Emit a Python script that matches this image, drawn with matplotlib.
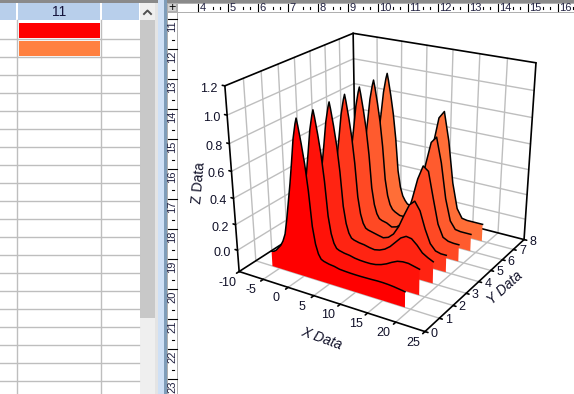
import numpy as np
import matplotlib
matplotlib.use("Agg")
import matplotlib.pyplot as plt
from matplotlib.patches import Rectangle
from mpl_toolkits.mplot3d import proj3d
from mpl_toolkits.mplot3d.art3d import Poly3DCollection

plt.rcParams["font.family"] = ["Liberation Sans", "DejaVu Sans"]

W, H = 574, 394

x_values = [-6.5, -6, -5.5, -5, -4.5, -4, -3.5, -3, -2.5, -2, -1.5, -1, -0.5, -0.25, 0, 0.5, 1, 1.5, 2, 2.5, 3, 3.5,
            4, 5, 6, 7, 8, 9, 10, 11, 12, 13, 14, 15, 16, 17, 18, 19]
y_positions = [1, 2, 3, 4, 5, 6, 7]
rising = [-0.05, -0.045, -0.03, -0.005, 0.02, 0.06, 0.12, 0.24, 0.38, 0.52, 0.68, 0.85, 0.96, 1.0, 0.95,
          0.83, 0.69, 0.50, 0.24, 0.11, 0.04, 0.005]
z1 = rising + [-0.005, -0.015, -0.02, -0.03, -0.033, -0.035, -0.036, -0.036, -0.035, -0.034, -0.032, -0.032, -0.034, -0.038, -0.044, -0.05]
z2 = rising + [-0.005, -0.015, -0.02, -0.03, -0.035, -0.037, -0.037, -0.032, -0.02, -0.002, 0.022, 0.042, 0.05, 0.05, 0.04, 0.03]
z3 = rising + [-0.005, -0.015, -0.02, -0.03, -0.036, -0.027, -0.008, 0.024, 0.069, 0.114, 0.138, 0.131, 0.094, 0.045, 0.02, 0.0]
z4 = rising + [-0.005, -0.015, -0.025, -0.034, -0.019, 0.019, 0.09, 0.189, 0.281, 0.32, 0.256, 0.125, 0.022, -0.024, -0.035, -0.035]
z5 = rising + [-0.005, -0.015, -0.037, -0.025, 0.01, 0.092, 0.233, 0.399, 0.509, 0.477, 0.277, 0.085, -0.009, -0.03, -0.035, -0.035]
z6 = rising + [-0.01, -0.03, -0.03, 0.0, 0.076, 0.226, 0.433, 0.615, 0.664, 0.475, 0.202, 0.033, -0.026, -0.033, -0.033, -0.033]
z7 = rising + [-0.02, -0.025, 0.007, 0.098, 0.275, 0.52, 0.735, 0.792, 0.57, 0.246, 0.047, -0.023, -0.03, -0.03, -0.03, -0.03]
ribbons = [z1, z2, z3, z4, z5, z6, z7]
ribbon_colors = ["#FF0000", "#FF1209", "#FF2412", "#FF371B", "#FF4924", "#FF5B2E", "#FF6E37"]

x_ticks = [-10, -5, 0, 5, 10, 15, 20, 25]
y_ticks = [0, 1, 2, 3, 4, 5, 6, 7, 8]
z_ticks = [0.0, 0.2, 0.4, 0.6, 0.8, 1.0, 1.2]
XMIN, XMAX, YMIN, YMAX, ZMIN, ZMAX = -10, 25, 0, 8, -0.17, 1.2

top_ruler = [4, 5, 6, 7, 8, 9, 10, 11, 12, 13, 14, 15, 16]
side_ruler = [11, 12, 13, 14, 15, 16, 17, 18, 19, 20, 21, 22, 23]

# where the box corners sit in the screenshot, used to solve the camera
corner_data = [(XMIN, YMIN, ZMIN), (XMAX, YMIN, ZMIN), (XMAX, YMAX, ZMIN), (XMIN, YMAX, ZMIN),
               (XMIN, YMIN, ZMAX), (XMIN, YMAX, ZMAX), (XMAX, YMAX, ZMAX)]
corner_px = [(239, 271), (425, 332), (524, 239), (356, 197), (225, 86), (353, 33), (536, 63)]

GRID = "#BEBEBE"
HEADER = "#B8CFEB"

fig = plt.figure(figsize=(W / 100, H / 100), dpi=100, facecolor="white")

# window furniture, in pixel coordinates
ui = fig.add_axes([0, 0, 1, 1])
ui.set_xlim(0, W)
ui.set_ylim(H, 0)
ui.axis("off")


def box(x0, y0, x1, y1, color, z=1):
    ui.add_patch(Rectangle((x0, y0), x1 - x0, y1 - y0, facecolor=color, edgecolor="none", zorder=z))


box(0, 0, W, 3, "#8A8A8A")
box(0, 3, 16, 20, HEADER)
box(17.5, 3, 100, 20, HEADER)
box(102, 3, 139, 20, HEADER)
for y in range(38, 381, 18):
    ui.plot([0, 139], [y + 0.5, y + 0.5], color=GRID, lw=1, zorder=2)
for x in (16.5, 100.5):
    ui.plot([x, x], [20, H], color=GRID, lw=1, zorder=2)
box(19, 23, 100, 38, "#FF0000", 3)
box(19, 41, 100, 56, "#FF8040", 3)
ui.text(59, 12, "11", ha="center", va="center", fontsize=10, color="#14143C", zorder=4)
box(140, 3, 155, H, "#EFEFEF")
box(140, 20, 155, 318, "#C8C8C8")
ui.plot([144, 147.5, 151], [14, 10.5, 14], color="#505050", lw=1.4, zorder=4)
box(155, 3, 158, H, "#E4E4E4")
box(158, 0, 164, H, "#CFE0F5")
box(164, 0, 167, H, "#7F9DB9")
box(167, 3, W, 13, "#B0B0B0")
box(167, 3, 178, H, "#B0B0B0")
box(168, 4, 176, 11, "#D0D0D0")
box(178, 4, W, 11.5, "white", 2)
box(168, 13, 177, H, "white", 2)
ui.text(172, 7.5, "+", ha="center", va="center", fontsize=9, color="black", zorder=4)
for i, n in enumerate(top_ruler):
    x = 198 + 30 * i
    ui.plot([x, x], [4, 11], color="black", lw=0.8, zorder=3)
    ui.text(x + 1.5, 7.5, str(n), ha="left", va="center", fontsize=8, color="#202040", zorder=4)
    ui.plot([x + 15, x + 15], [7, 8.5], color="black", lw=0.8, zorder=3)
    ui.plot([x + 22, x + 22], [7, 8.5], color="black", lw=0.8, zorder=3)
for i, n in enumerate(side_ruler):
    y = 19 + 30 * i
    ui.plot([168, 177], [y, y], color="black", lw=0.8, zorder=3)
    ui.text(172.5, y + 7.5, str(n), rotation=90, ha="center", va="center", fontsize=8, color="#202040", zorder=4)
    ui.plot([172, 173.5], [y + 21, y + 21], color="black", lw=0.8, zorder=3)

# the 3D plot
ax = fig.add_axes([180 / W, 0, H / W, 1], projection="3d")
ax.patch.set_visible(False)
ax.set_axis_off()
ax.computed_zorder = False
ax.apply_aspect()

target = ax.transData.inverted().transform([(px, H - py) for px, py in corner_px])
rows = []
for (X, Y, Z), (u, v) in zip(corner_data, target):
    rows.append([X, Y, Z, 1, 0, 0, 0, 0, -u * X, -u * Y, -u * Z, -u])
    rows.append([0, 0, 0, 0, X, Y, Z, 1, -v * X, -v * Y, -v * Z, -v])
cam = np.linalg.svd(np.array(rows, dtype=float))[2][-1].reshape(3, 4)
M = np.vstack([cam[0], cam[1], [0, 0, 0, cam[2].max()], cam[2]])
ax.get_proj = lambda: M
ax.M = M


def line3(xs, ys, zs, color="black", lw=1.2, z=1):
    ax.plot(xs, ys, zs, color=color, lw=lw, zorder=z, solid_capstyle="round")


def label3(x, y, z, text, dx, dy, ha="center"):
    px, py, _ = proj3d.proj_transform(x, y, z, M)
    ax.annotate(text, (px, py), xytext=(dx, -dy), textcoords="offset pixels", ha=ha, va="center",
                fontsize=9, color="#101028", annotation_clip=False)


for xt in x_ticks[1:-1]:
    line3([xt, xt], [YMIN, YMAX], [ZMIN, ZMIN], GRID, 1)
    line3([xt, xt], [YMAX, YMAX], [ZMIN, ZMAX], GRID, 1)
for yt in y_ticks[1:-1]:
    line3([XMIN, XMAX], [yt, yt], [ZMIN, ZMIN], GRID, 1)
    line3([XMIN, XMIN], [yt, yt], [ZMIN, ZMAX], GRID, 1)
for zt in z_ticks[:-1]:
    line3([XMIN, XMIN], [YMIN, YMAX], [zt, zt], GRID, 1)
    line3([XMIN, XMAX], [YMAX, YMAX], [zt, zt], GRID, 1)

frame = [[0, 1], [1, 2], [2, 3], [3, 0], [0, 4], [4, 5], [5, 6], [6, 2], [5, 3]]
for a, b in frame:
    pa, pb = corner_data[a], corner_data[b]
    line3([pa[0], pb[0]], [pa[1], pb[1]], [pa[2], pb[2]], z=2)

for xt in x_ticks:
    line3([xt, xt], [YMIN, YMIN - 0.15], [ZMIN, ZMIN], z=2)
    label3(xt, YMIN, ZMIN, str(xt), -12, 11)
for yt in y_ticks:
    line3([XMAX, XMAX + 0.5], [yt, yt], [ZMIN, ZMIN], z=2)
    label3(XMAX, yt, ZMIN, str(yt), 9, 2)
for zt in z_ticks:
    line3([XMIN, XMIN - 0.5], [YMIN, YMIN], [zt, zt], z=2)
    label3(XMIN, YMIN, zt, f"{zt:.1f}", -7, 3, ha="right")

# back ribbon first so the nearer ones cover it
for i in range(len(ribbons) - 1, -1, -1):
    yy = y_positions[i]
    verts = [(x_values[0], yy, ZMIN)] + [(a, yy, b) for a, b in zip(x_values, ribbons[i])] + [(x_values[-1], yy, ZMIN)]
    poly = Poly3DCollection([verts], facecolors=ribbon_colors[i], edgecolors="none", zorder=10 + 2 * (7 - i))
    ax.add_collection3d(poly)
    ax.plot(x_values, [yy] * len(x_values), ribbons[i], color="black", lw=1.1, zorder=11 + 2 * (7 - i))

ui.text(199, 183, "Z Data", rotation=85, ha="center", va="center", fontsize=10, color="#101028")
ui.text(322, 339, "X Data", rotation=-20, style="italic", ha="center", va="center", fontsize=10, color="#101028")
ui.text(505, 288, "Y Data", rotation=42, style="italic", ha="center", va="center", fontsize=10, color="#101028")

fig.savefig("out.png", dpi=100)
